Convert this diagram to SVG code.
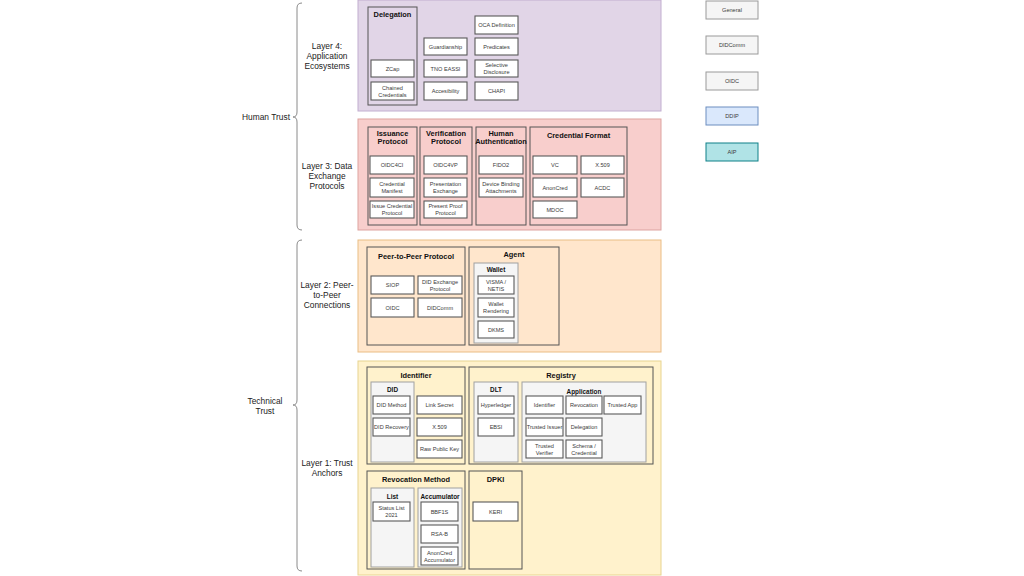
<svg xmlns="http://www.w3.org/2000/svg" width="1024" height="576" viewBox="0 0 1024 576">
<style>
text{font-family:"Liberation Sans",Arial,sans-serif;text-anchor:middle;dominant-baseline:central}
.bg{fill:#ffffff}
.band{stroke-width:1}
.l4{fill:#e1d5e7;stroke:#c2aed0}
.l3{fill:#f8cecc;stroke:#dda3a0}
.l2{fill:#ffe6cc;stroke:#eabd84}
.l1{fill:#fff2cc;stroke:#e8d48f}
.ctr{fill:none;stroke:#555555;stroke-width:1}
.grp{fill:#f5f5f5;stroke:#a0a0a0;stroke-width:1}
.leaf{fill:#ffffff;stroke:#5a5a5a;stroke-width:1.1}
.t{font-size:5.6px;fill:#3a3a3a}
.h{font-size:7.4px;font-weight:bold;fill:#111111}
.hs{font-size:6.4px;font-weight:bold;fill:#111111}
.lbl{font-size:8.4px;fill:#222222}
.brace{fill:none;stroke:#8a8a8a;stroke-width:1}
.lg{stroke-width:1}
.lgg{fill:#f5f5f5;stroke:#9a9a9a}
.lgb{fill:#dae8fc;stroke:#6c8ebf}
.lgt{fill:#b0e3e6;stroke:#0e8088}
</style>
<rect class="bg" x="0" y="0" width="1024" height="576"/>

<g id="connectors">
<path class="brace" d="M302 3 Q297 3 297 8 L297 112 Q297 117 293 117 Q297 117 297 122 L297 225 Q297 230 302 230"/>
<path class="brace" d="M302 240 Q297 240 297 245 L297 400 Q297 405 293 405 Q297 405 297 410 L297 566 Q297 571 302 571"/>
</g>

<g id="labels">
<text class="lbl" x="266" y="117">Human Trust</text>
<text class="lbl" x="265" y="401">Technical</text>
<text class="lbl" x="265" y="411">Trust</text>
<text class="lbl" x="327" y="46">Layer 4:</text>
<text class="lbl" x="327" y="56">Application</text>
<text class="lbl" x="327" y="66">Ecosystems</text>
<text class="lbl" x="327" y="166">Layer 3: Data</text>
<text class="lbl" x="327" y="176">Exchange</text>
<text class="lbl" x="327" y="186">Protocols</text>
<text class="lbl" x="327" y="285">Layer 2: Peer-</text>
<text class="lbl" x="327" y="295">to-Peer</text>
<text class="lbl" x="327" y="305">Connections</text>
<text class="lbl" x="327" y="463">Layer 1: Trust</text>
<text class="lbl" x="327" y="473">Anchors</text>
</g>

<!-- Layer 4 -->
<g id="layer4"><rect class="band l4" x="358" y="0" width="303" height="111"/></g>
<g id="delegation-group"><rect class="ctr" x="368" y="7" width="49" height="98"/><text class="h" x="392.5" y="14">Delegation</text></g>
<g id="zcap"><rect class="leaf" x="371" y="60" width="43" height="17"/><text class="t" x="392.5" y="68.5">ZCap</text></g>
<g id="chained"><rect class="leaf" x="371" y="82" width="43" height="18"/><text class="t" x="392.5" y="87.5">Chained</text><text class="t" x="392.5" y="94.5">Credentials</text></g>
<g id="guardianship"><rect class="leaf" x="424" y="38" width="43" height="17"/><text class="t" x="445.5" y="46.5">Guardianship</text></g>
<g id="tno"><rect class="leaf" x="424" y="60" width="43" height="17"/><text class="t" x="445.5" y="68.5">TNO EASSI</text></g>
<g id="accessibility"><rect class="leaf" x="424" y="82" width="43" height="18"/><text class="t" x="445.5" y="91">Accesibility</text></g>
<g id="oca"><rect class="leaf" x="475" y="16" width="43" height="18"/><text class="t" x="496.5" y="25">OCA Definition</text></g>
<g id="predicates"><rect class="leaf" x="475" y="38" width="43" height="17"/><text class="t" x="496.5" y="46.5">Predicates</text></g>
<g id="selective"><rect class="leaf" x="475" y="60" width="43" height="17"/><text class="t" x="496.5" y="65">Selective</text><text class="t" x="496.5" y="72">Disclosure</text></g>
<g id="chapi"><rect class="leaf" x="475" y="82" width="43" height="18"/><text class="t" x="496.5" y="91">CHAPI</text></g>

<!-- Layer 3 -->
<g id="layer3"><rect class="band l3" x="358" y="119" width="303" height="111"/></g>
<g id="issuance"><rect class="ctr" x="368" y="127" width="49" height="98"/><text class="h" x="392.5" y="133">Issuance</text><text class="h" x="392.5" y="141.5">Protocol</text></g>
<g id="verification"><rect class="ctr" x="420" y="127" width="52" height="98"/><text class="h" x="446" y="133">Verification</text><text class="h" x="446" y="141.5">Protocol</text></g>
<g id="human-auth"><rect class="ctr" x="476" y="127" width="50" height="98"/><text class="h" x="501" y="133">Human</text><text class="h" x="501" y="141.5">Authentication</text></g>
<g id="cred-format"><rect class="ctr" x="530" y="127" width="97" height="98"/><text class="h" x="578.5" y="135">Credential Format</text></g>
<g id="oidc4ci"><rect class="leaf" x="370" y="156" width="44" height="18"/><text class="t" x="392" y="165">OIDC4CI</text></g>
<g id="cred-manifest"><rect class="leaf" x="370" y="178" width="44" height="19"/><text class="t" x="392" y="184">Credential</text><text class="t" x="392" y="191">Manifest</text></g>
<g id="issue-cred"><rect class="leaf" x="370" y="201" width="44" height="17"/><text class="t" x="392" y="206">Issue Credential</text><text class="t" x="392" y="213">Protocol</text></g>
<g id="oidc4vp"><rect class="leaf" x="424" y="156" width="43" height="18"/><text class="t" x="445.5" y="165">OIDC4VP</text></g>
<g id="pres-exchange"><rect class="leaf" x="424" y="178" width="43" height="19"/><text class="t" x="445.5" y="184">Presentation</text><text class="t" x="445.5" y="191">Exchange</text></g>
<g id="present-proof"><rect class="leaf" x="424" y="201" width="43" height="17"/><text class="t" x="445.5" y="206">Present Proof</text><text class="t" x="445.5" y="213">Protocol</text></g>
<g id="fido2"><rect class="leaf" x="479" y="156" width="44" height="18"/><text class="t" x="501" y="165">FIDO2</text></g>
<g id="device-binding"><rect class="leaf" x="479" y="178" width="44" height="19"/><text class="t" x="501" y="184">Device Binding</text><text class="t" x="501" y="191">Attachments</text></g>
<g id="vc"><rect class="leaf" x="533" y="156" width="44" height="18"/><text class="t" x="555" y="165">VC</text></g>
<g id="x509a"><rect class="leaf" x="581" y="156" width="43" height="18"/><text class="t" x="602.5" y="165">X.509</text></g>
<g id="anoncred"><rect class="leaf" x="533" y="178" width="44" height="19"/><text class="t" x="555" y="187.5">AnonCred</text></g>
<g id="acdc"><rect class="leaf" x="581" y="178" width="43" height="19"/><text class="t" x="602.5" y="187.5">ACDC</text></g>
<g id="mdoc"><rect class="leaf" x="533" y="201" width="44" height="17"/><text class="t" x="555" y="209.5">MDOC</text></g>

<!-- Layer 2 -->
<g id="layer2"><rect class="band l2" x="358" y="240" width="303" height="112"/></g>
<g id="p2p-protocol"><rect class="ctr" x="367" y="247" width="98" height="98"/><text class="h" x="416" y="256">Peer-to-Peer Protocol</text></g>
<g id="agent"><rect class="ctr" x="469" y="247" width="90" height="98"/><text class="h" x="514" y="254">Agent</text></g>
<g id="siop"><rect class="leaf" x="371" y="276" width="43" height="18"/><text class="t" x="392.5" y="285">SIOP</text></g>
<g id="did-exchange"><rect class="leaf" x="418" y="276" width="44" height="18"/><text class="t" x="440" y="281.5">DID Exchange</text><text class="t" x="440" y="288.5">Protocol</text></g>
<g id="oidc"><rect class="leaf" x="371" y="298" width="43" height="19"/><text class="t" x="392.5" y="307.5">OIDC</text></g>
<g id="didcomm"><rect class="leaf" x="418" y="298" width="44" height="19"/><text class="t" x="440" y="307.5">DIDComm</text></g>
<g id="wallet"><rect class="grp" x="474" y="263" width="44" height="80"/><text class="hs" x="496" y="269">Wallet</text></g>
<g id="visma"><rect class="leaf" x="478" y="276" width="36" height="18"/><text class="t" x="496" y="281.5">VISMA /</text><text class="t" x="496" y="288.5">NETIS</text></g>
<g id="wallet-rendering"><rect class="leaf" x="478" y="298" width="36" height="19"/><text class="t" x="496" y="304">Wallet</text><text class="t" x="496" y="311">Rendering</text></g>
<g id="dkms"><rect class="leaf" x="478" y="321" width="36" height="17"/><text class="t" x="496" y="329.5">DKMS</text></g>

<!-- Layer 1 -->
<g id="layer1"><rect class="band l1" x="358" y="361" width="303" height="214"/></g>
<g id="identifier"><rect class="ctr" x="367" y="367" width="98" height="97"/><text class="h" x="416" y="375">Identifier</text></g>
<g id="registry"><rect class="ctr" x="469" y="367" width="184" height="97"/><text class="h" x="561" y="375">Registry</text></g>
<g id="did"><rect class="grp" x="371" y="382" width="43" height="80"/><text class="hs" x="392.5" y="389">DID</text></g>
<g id="did-method"><rect class="leaf" x="373" y="396" width="37" height="18"/><text class="t" x="391.5" y="405">DID Method</text></g>
<g id="did-recovery"><rect class="leaf" x="373" y="418" width="37" height="18"/><text class="t" x="391.5" y="427">DID Recovery</text></g>
<g id="link-secret"><rect class="leaf" x="417" y="396" width="45" height="18"/><text class="t" x="439.5" y="405">Link Secret</text></g>
<g id="x509b"><rect class="leaf" x="417" y="418" width="45" height="18"/><text class="t" x="439.5" y="427">X.509</text></g>
<g id="raw-key"><rect class="leaf" x="417" y="440" width="45" height="18"/><text class="t" x="439.5" y="449">Raw Public Key</text></g>
<g id="dlt"><rect class="grp" x="474" y="382" width="44" height="80"/><text class="hs" x="496" y="389">DLT</text></g>
<g id="hyperledger"><rect class="leaf" x="478" y="396" width="36" height="18"/><text class="t" x="496" y="405">Hyperledger</text></g>
<g id="ebsi"><rect class="leaf" x="478" y="418" width="36" height="18"/><text class="t" x="496" y="427">EBSI</text></g>
<g id="application"><rect class="grp" x="522" y="382" width="124" height="80"/><text class="hs" x="584" y="391">Application</text></g>
<g id="app-identifier"><rect class="leaf" x="526" y="396" width="37" height="18"/><text class="t" x="544.5" y="405">Identifier</text></g>
<g id="app-revocation"><rect class="leaf" x="566" y="396" width="36" height="18"/><text class="t" x="584" y="405">Revocation</text></g>
<g id="trusted-app"><rect class="leaf" x="604" y="396" width="37" height="18"/><text class="t" x="622.5" y="405">Trusted App</text></g>
<g id="trusted-issuer"><rect class="leaf" x="526" y="418" width="37" height="18"/><text class="t" x="544.5" y="427">Trusted Issuer</text></g>
<g id="app-delegation"><rect class="leaf" x="566" y="418" width="36" height="18"/><text class="t" x="584" y="427">Delegation</text></g>
<g id="trusted-verifier"><rect class="leaf" x="526" y="440" width="37" height="18"/><text class="t" x="544.5" y="445.5">Trusted</text><text class="t" x="544.5" y="452.5">Verifier</text></g>
<g id="schema"><rect class="leaf" x="566" y="440" width="36" height="18"/><text class="t" x="584" y="445.5">Schema /</text><text class="t" x="584" y="452.5">Credential</text></g>

<g id="revocation-method"><rect class="ctr" x="367" y="471" width="98" height="98"/><text class="h" x="416" y="479">Revocation Method</text></g>
<g id="dpki"><rect class="ctr" x="469" y="471" width="53" height="98"/><text class="h" x="495.5" y="479">DPKI</text></g>
<g id="list"><rect class="grp" x="371" y="488" width="43" height="79"/><text class="hs" x="392.5" y="496">List</text></g>
<g id="status-list"><rect class="leaf" x="373" y="502" width="37" height="19"/><text class="t" x="391.5" y="508">Status List</text><text class="t" x="391.5" y="515">2021</text></g>
<g id="accumulator"><rect class="grp" x="418" y="488" width="44" height="79"/><text class="hs" x="440" y="496">Accumulator</text></g>
<g id="bbf1s"><rect class="leaf" x="421" y="502" width="37" height="19"/><text class="t" x="439.5" y="511.5">BBF1S</text></g>
<g id="rsa-b"><rect class="leaf" x="421" y="525" width="37" height="18"/><text class="t" x="439.5" y="534">RSA-B</text></g>
<g id="anoncred-acc"><rect class="leaf" x="421" y="547" width="37" height="18"/><text class="t" x="439.5" y="552.5">AnonCred</text><text class="t" x="439.5" y="559.5">Accumulator</text></g>
<g id="keri"><rect class="leaf" x="473" y="502" width="45" height="19"/><text class="t" x="495.5" y="511.5">KERI</text></g>

<!-- Legend -->
<g id="legend-general"><rect class="lg lgg" x="706" y="1" width="52" height="18"/><text class="t" x="732" y="10">General</text></g>
<g id="legend-didcomm"><rect class="lg lgg" x="706" y="36" width="52" height="18"/><text class="t" x="732" y="45">DIDComm</text></g>
<g id="legend-oidc"><rect class="lg lgg" x="706" y="72" width="52" height="18"/><text class="t" x="732" y="81">OIDC</text></g>
<g id="legend-ddip"><rect class="lg lgb" x="706" y="107" width="52" height="18"/><text class="t" x="732" y="116">DDIP</text></g>
<g id="legend-aip"><rect class="lg lgt" x="706" y="143" width="52" height="18"/><text class="t" x="732" y="152">AIP</text></g>
</svg>
